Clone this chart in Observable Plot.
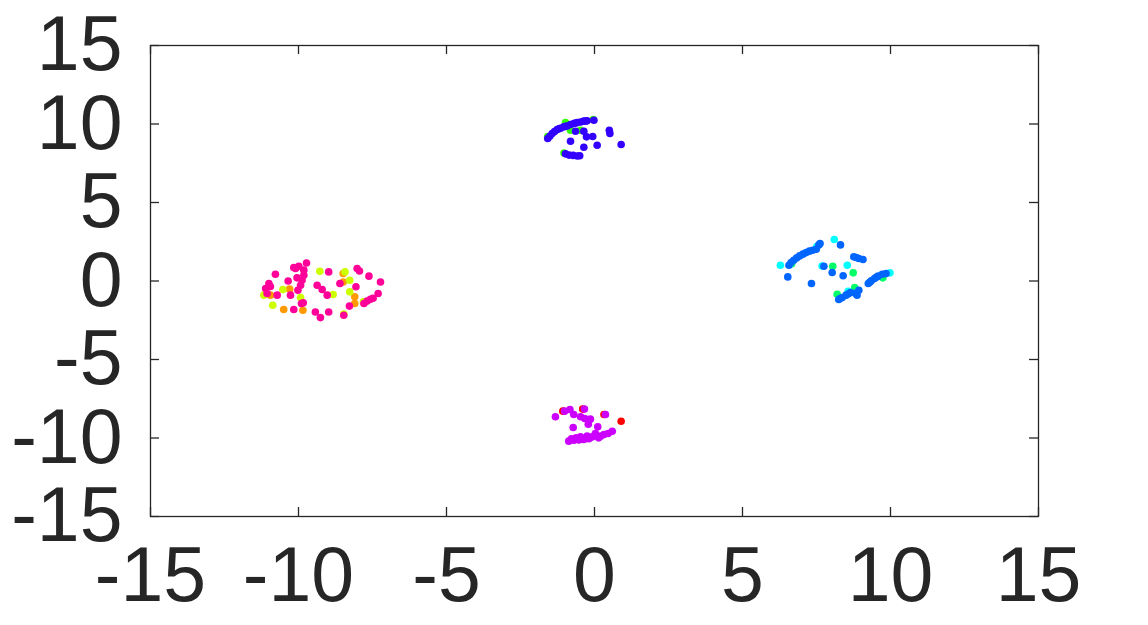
<!DOCTYPE html>
<html>
<head>
<meta charset="utf-8">
<script src="https://cdn.jsdelivr.net/npm/d3@7"></script>
<script src="https://cdn.jsdelivr.net/npm/@observablehq/plot@0.6"></script>
<style>
  html, body { margin: 0; padding: 0; background: #fff; }
  #chart svg { display: block; }
</style>
</head>
<body>
<div id="chart"></div>
<script>
// ---- data (t-SNE style embedding, 10 classes, hsv(10) colours) ----
const classNames = ["0","1","2","3","4","5","6","7","8","9"];
const classColors = ["#ff0000","#ff9900","#ccff00","#33ff00","#00ff66","#00ffff","#0066ff","#3300ff","#cc00ff","#ff0099"];

const xTicks = [-15, -10, -5, 0, 5, 10, 15];
const yTicks = [-15, -10, -5, 0, 5, 10, 15];

// class 0 (red)
const pts0 = [[0.90,-8.93],[-1.07,-8.29],[0.32,-8.50],[-0.40,-8.16]];
// class 1 (orange)
const pts1 = [[-10.50,-1.82],[-9.85,-1.86],[-10.30,-0.52],[-8.49,0.48],[-8.49,-0.06],[-8.10,-1.01],[-8.10,-1.43],[-10.95,-0.90]];
// class 2 (yellow-green)
const pts2 = [[-9.28,0.62],[-8.43,0.58],[-8.27,0.05],[-8.83,-0.86],[-8.27,-0.69],[-10.53,-0.54],[-11.17,-0.90],[-10.87,-1.54],[-9.93,-1.05],[-7.81,-1.33],[-8.47,-2.10]];
// class 3 (green)
const pts3 = [[-0.98,10.09],[-0.81,9.60],[-0.47,9.60],[-1.58,9.20],[-1.03,8.15],[-0.04,10.28]];
// class 4 (green-cyan)
const pts4 = [[8.05,0.94],[8.74,0.52],[9.74,0.20],[8.20,-0.84],[8.79,-0.41],[6.66,1.10]];
// class 5 (cyan)
const pts5 = [[6.28,1.00],[7.51,2.20],[8.10,2.64],[8.54,1.00],[7.69,0.96],[9.98,0.52],[8.57,-0.66]];
// class 6 (blue)
const pts6 = [[6.57,1.00],[6.64,1.18],[6.73,1.32],[6.83,1.47],[6.93,1.60],[7.04,1.71],[7.15,1.81],[7.26,1.90],[7.37,1.96],[7.49,2.02],[7.62,2.39],[7.58,2.30],
  [8.31,2.30],[8.76,1.54],[8.93,1.43],[9.07,1.37],[8.84,1.50],[7.75,0.94],[8.03,0.54],[8.40,0.33],[6.53,0.26],[7.33,-0.16],
  [9.25,-0.16],[9.35,0.01],[9.46,0.16],[9.58,0.31],[9.72,0.43],[9.85,0.47],[9.30,-0.08],[9.52,0.24],
  [8.25,-1.18],[8.37,-1.05],[8.50,-0.90],[8.65,-0.73],[8.82,-0.79],[8.93,-0.59],[8.87,-0.90],[8.30,-1.12],[8.58,-0.82]];
// class 7 (indigo)
const pts7 = [[-1.58,9.08],[-1.51,9.22],[-1.43,9.39],[-1.35,9.52],[-1.26,9.65],[-1.15,9.73],[-1.04,9.82],[-0.92,9.87],[-0.81,9.97],[-0.70,10.03],[-0.58,10.09],[-0.47,10.13],[-0.36,10.18],[-0.25,10.20],[-0.02,10.24],
  [-1.20,9.70],[-0.98,9.85],[-0.64,10.06],[-0.30,10.19],
  [-0.64,9.54],[-0.36,9.54],[-0.27,9.18],[-0.06,9.20],[-0.81,8.90],[-0.36,8.52],[0.09,8.65],[0.50,9.60],[0.52,9.40],[0.90,8.69],
  [-0.98,8.10],[-0.86,8.02],[-0.72,8.00],[-0.58,7.96],[-0.50,7.98]];
// class 8 (violet)
const pts8 = [[-1.32,-8.65],[-1.01,-8.29],[-0.83,-8.19],[-0.70,-8.50],[-0.34,-8.16],[-0.47,-8.65],[-0.33,-8.76],[-0.14,-8.80],[-0.21,-9.12],[0.37,-8.50],[-0.72,-9.33],[0.11,-9.29],
  [-0.87,-10.20],[-0.70,-10.14],[-0.53,-10.12],[-0.36,-10.10],[-0.19,-10.05],[-0.08,-9.93],[0.03,-9.71],[0.14,-9.99],[0.32,-9.78],[0.46,-9.71],[0.60,-9.57],[-0.47,-9.93],[-0.25,-9.87],[-0.78,-10.05],[-0.62,-9.98],[0.22,-9.88]];
// class 9 (pink)
const pts9 = [[-10.78,0.43],[-11.00,-0.16],[-11.11,-0.48],[-11.06,-0.80],[-10.72,-0.90],[-10.35,0.00],[-10.27,-0.90],[-10.16,-1.82],[-10.10,0.80],[-9.99,0.94],[-9.82,0.69],[-9.73,1.15],[-9.82,0.37],[-9.88,0.05],[-9.93,-0.27],[-10.02,-0.59],[-9.84,-1.39],[-9.90,-1.43],[-9.43,-1.97],[-9.26,-2.33],[-9.37,-0.27],[-9.20,-0.54],[-9.03,-0.90],[-8.98,0.58],[-8.98,-1.97],[-8.60,-0.16],[-8.47,-2.18],[-8.28,-1.60],[-8.06,-0.37],[-8.02,0.80],[-7.94,0.64],[-7.62,0.31],[-7.23,-0.06],[-7.31,-0.80],[-7.79,-1.43],[-7.68,-1.28],[-7.57,-1.16],[-7.48,-1.10],[-10.16,0.86],[-10.05,0.20],[-10.95,-0.35]];

// drawing order: minority classes under majority ones
const drawOrder = [0, 1, 2, 3, 4, 5, 6, 7, 8, 9];
const groups = [pts0, pts1, pts2, pts3, pts4, pts5, pts6, pts7, pts8, pts9];
const rows = [];
for (const k of drawOrder) for (const [x, y] of groups[k]) rows.push({x, y, cls: classNames[k]});

const W = 1148, H = 625;
const mL = 150, mR = 110, mT = 45, mB = 109;
const frameW = W - mL - mR, frameH = H - mT - mB;
const tickLen = 9;
const ink = "#262626";
const fmt = d => String(d);

const chart = Plot.plot({
  width: W,
  height: H,
  marginLeft: mL,
  marginRight: mR,
  marginTop: mT,
  marginBottom: mB,
  style: {fontFamily: "'Liberation Sans', Arial, sans-serif", background: "#fff", color: ink},
  x: {domain: [-15, 15], label: null},
  y: {domain: [-15, 15], label: null},
  color: {domain: classNames, range: classColors},
  marks: [
    Plot.dot(rows, {x: "x", y: "y", fill: "cls", r: 3.8, stroke: null}),
    Plot.frame({stroke: ink, strokeWidth: 1.3}),
    // inward ticks on all four sides
    Plot.tickX(xTicks, {x: d => d, stroke: ink, strokeWidth: 1.3, insetTop: frameH - tickLen}),
    Plot.tickX(xTicks, {x: d => d, stroke: ink, strokeWidth: 1.3, insetBottom: frameH - tickLen}),
    Plot.tickY(yTicks, {y: d => d, stroke: ink, strokeWidth: 1.3, insetRight: frameW - tickLen}),
    Plot.tickY(yTicks, {y: d => d, stroke: ink, strokeWidth: 1.3, insetLeft: frameW - tickLen}),
    Plot.axisX(xTicks, {tickSize: 0, tickPadding: 30, fontSize: 77, tickFormat: fmt, fill: ink, label: null}),
    Plot.axisY(yTicks, {tickSize: 0, tickPadding: 28, fontSize: 77, tickFormat: fmt, fill: ink, label: null})
  ]
});
document.getElementById("chart").appendChild(chart);
</script>
</body>
</html>
